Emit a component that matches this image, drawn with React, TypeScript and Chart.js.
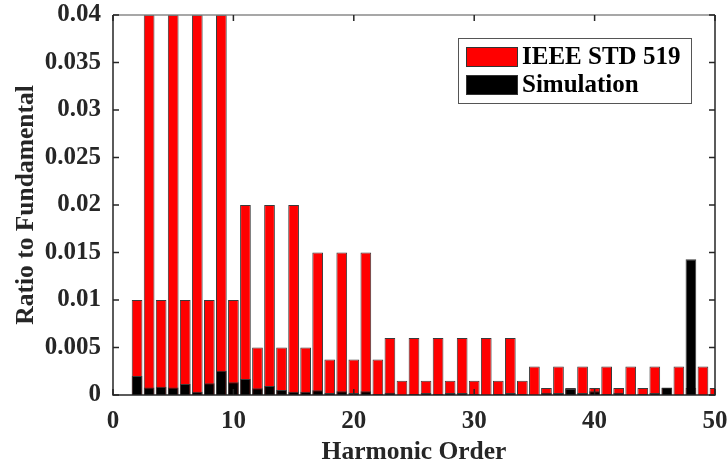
import React, { useEffect, useRef } from "react";
import { Chart, registerables } from "chart.js";

Chart.register(...registerables);

const harmonics: number[] = [
  2, 3, 4, 5, 6, 7, 8, 9, 10, 11, 12, 13, 14, 15, 16, 17, 18, 19, 20, 21, 22, 23, 24, 25, 26,
  27, 28, 29, 30, 31, 32, 33, 34, 35, 36, 37, 38, 39, 40, 41, 42, 43, 44, 45, 46, 47, 48, 49, 50,
];

const ieeeLimits: number[] = [
  0.01, 0.04, 0.01, 0.04, 0.01, 0.04, 0.01, 0.04, 0.01, // 2-10
  0.02, 0.005, 0.02, 0.005, 0.02, 0.005, // 11-16
  0.015, 0.00375, 0.015, 0.00375, 0.015, 0.00375, // 17-22
  0.006, 0.0015, 0.006, 0.0015, 0.006, 0.0015, 0.006, 0.0015, 0.006, 0.0015, 0.006, 0.0015, // 23-34
  0.003, 0.00075, 0.003, 0.00075, 0.003, 0.00075, 0.003, 0.00075, 0.003, 0.00075, 0.003, 0.00075,
  0.003, 0.00075, 0.003, 0.00075, // 35-50
];

const simulation: number[] = [
  0.002, 0.0008, 0.00088, 0.0008, 0.00116, 0.00035, 0.00123, 0.00256, 0.00133, // 2-10
  0.00168, 0.0007, 0.00095, 0.00053, 0.00035, 0.00035, // 11-16
  0.0005, 0.0002, 0.0004, 0.0002, 0.0004, 0.0001, // 17-22
  0.00025, 0.00002, 0.0001, 0.0002, 0.0001, 0.0002, 0.0002, 0.0001, 0.00002, 0.0001, 0.0002, 0.0001, // 23-34
  0.00002, 0.00025, 0.0002, 0.00063, 0.0002, 0.0004, 0.0001, 0.00025, 0.00002, 0.0001, 0.0002, 0.0008,
  0.00002, 0.0143, 0.00002, 0.00002, // 35-50
];

const seriesNames: string[] = ["IEEE STD 519", "Simulation"];
const seriesColors: string[] = ["#ff0000", "#000000"];
const yTicks: number[] = [0, 0.005, 0.01, 0.015, 0.02, 0.025, 0.03, 0.035, 0.04];
const xTicks: number[] = [0, 10, 20, 30, 40, 50];

const FONT = "'Liberation Serif', 'Times New Roman', serif";

const framePlugin = {
  id: "frame",
  afterDraw(chart: any) {
    const { ctx, chartArea } = chart;
    const { left, right, top, bottom } = chartArea;
    const xs = chart.scales.x;
    const ys = chart.scales.y;
    ctx.save();
    // box
    ctx.lineWidth = 1.5;
    ctx.strokeStyle = "#8a8a8a";
    ctx.beginPath();
    ctx.moveTo(left, top);
    ctx.lineTo(right, top);
    ctx.stroke();
    ctx.strokeStyle = "#262626";
    ctx.beginPath();
    ctx.moveTo(right, top);
    ctx.lineTo(right, bottom);
    ctx.lineTo(left, bottom);
    ctx.lineTo(left, top);
    ctx.stroke();
    // ticks
    const tl = 6;
    ctx.lineWidth = 1.5;
    ctx.strokeStyle = "#262626";
    ctx.beginPath();
    xTicks.forEach((v) => {
      const px = xs.getPixelForValue(v);
      ctx.moveTo(px, bottom);
      ctx.lineTo(px, bottom - tl);
      ctx.moveTo(px, top);
      ctx.lineTo(px, top + tl);
    });
    yTicks.forEach((v) => {
      const py = ys.getPixelForValue(v);
      ctx.moveTo(left, py);
      ctx.lineTo(left + tl, py);
      ctx.moveTo(right, py);
      ctx.lineTo(right - tl, py);
    });
    ctx.stroke();

    // legend
    const lx = 458, ly = 38, lw = 233, lh = 65;
    ctx.fillStyle = "#ffffff";
    ctx.fillRect(lx, ly, lw, lh);
    ctx.strokeStyle = "#555555";
    ctx.lineWidth = 1;
    ctx.strokeRect(lx + 0.5, ly + 0.5, lw, lh);
    const datasets = chart.data.datasets;
    datasets.forEach((ds: any, i: number) => {
      const sy = 47 + i * 28;
      ctx.fillStyle = ds.backgroundColor;
      ctx.fillRect(466, sy, 52, 20);
      ctx.strokeStyle = "#333";
      ctx.lineWidth = 1;
      ctx.strokeRect(466.5, sy + 0.5, 51, 19);
      ctx.fillStyle = "#000";
      ctx.font = `bold 25px ${FONT}`;
      ctx.textBaseline = "middle";
      ctx.textAlign = "left";
      ctx.fillText(ds.label, 522, sy + 11);
    });
    ctx.restore();
  },
};

export default function App() {
  const ref = useRef<HTMLCanvasElement | null>(null);
  useEffect(() => {
    document.body.style.margin = "0";
    const canvas = ref.current;
    if (!canvas) return;
    const chart = new Chart(canvas, {
      type: "bar",
      data: {
        datasets: [
          {
            label: seriesNames[0],
            data: harmonics.map((h, i) => ({ x: h, y: ieeeLimits[i] })),
            backgroundColor: seriesColors[0],
            borderColor: "#3a3a3a",
            borderWidth: 1,
            barPercentage: 0.89,
            categoryPercentage: 1,
            grouped: false,
            order: 2,
            clip: 0,
          } as any,
          {
            label: seriesNames[1],
            data: harmonics.map((h, i) => ({ x: h, y: simulation[i] })),
            backgroundColor: seriesColors[1],
            borderColor: "#3a3a3a",
            borderWidth: 1,
            barPercentage: 0.89,
            categoryPercentage: 1,
            grouped: false,
            order: 1,
            clip: 0,
          } as any,
        ],
      },
      options: {
        responsive: false,
        animation: false,
        layout: { padding: { left: 0, top: 15, right: 13, bottom: 0 } },
        plugins: {
          legend: { display: false },
          tooltip: { enabled: false },
        },
        scales: {
          x: {
            type: "linear",
            min: 0,
            max: 50,
            offset: false,
            grid: { display: false, drawTicks: false },
            border: { display: false },
            afterBuildTicks: (scale: any) => {
              scale.ticks = xTicks.map((v) => ({ value: v }));
            },
            afterFit: (scale: any) => {
              scale.height = 73;
              scale.paddingLeft = 0;
              scale.paddingRight = 0;
            },
            ticks: {
              padding: 12,
              color: "#262626",
              font: { family: FONT, size: 25, weight: "bold" },
              maxRotation: 0,
              autoSkip: false,
            },
            title: {
              display: true,
              text: "Harmonic Order",
              color: "#262626",
              font: { family: FONT, size: 25.5, weight: "bold" },
              padding: { top: 0, bottom: 0 },
            },
          },
          y: {
            type: "linear",
            min: 0,
            max: 0.04,
            grid: { display: false, drawTicks: false },
            border: { display: false },
            afterBuildTicks: (scale: any) => {
              scale.ticks = yTicks.map((v) => ({ value: v }));
            },
            afterFit: (scale: any) => {
              scale.width = 113;
              scale.paddingTop = 0;
              scale.paddingBottom = 0;
            },
            ticks: {
              padding: 12,
              color: "#262626",
              font: { family: FONT, size: 25, weight: "bold" },
              callback: (v: any) => String(Number(Number(v).toFixed(4))),
            },
            title: {
              display: true,
              text: "Ratio to Fundamental",
              color: "#262626",
              font: { family: FONT, size: 25.5, weight: "bold" },
              padding: { top: 11, bottom: 0 },
            },
          },
        },
      },
      plugins: [framePlugin],
    } as any);
    return () => chart.destroy();
  }, []);
  return (
    <canvas ref={ref} width={728} height={468} style={{ display: "block", width: 728, height: 468 }} />
  );
}
